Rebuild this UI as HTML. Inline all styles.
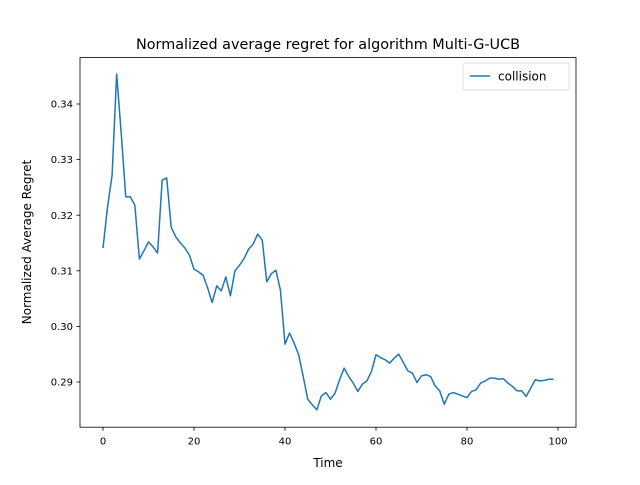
<!DOCTYPE html>
<html><head><meta charset="utf-8"><style>
body{margin:0;background:#fff;}
text{font-family:"DejaVu Sans","Liberation Sans",sans-serif;fill:#000;}
</style></head><body>
<svg id="chart" width="640" height="480">
<rect width="640" height="480" fill="#fff"/>
<text x="328" y="49" font-size="14.4" text-anchor="middle">Normalized average regret for algorithm Multi-G-UCB</text>
<g id="xt"></g><g id="yt"></g>
<path id="line" fill="none" stroke="#1f77b4" stroke-width="1.5" stroke-linejoin="round"/>
<rect x="80" y="57.6" width="496" height="369.6" fill="none" stroke="#000" stroke-width="0.8"/>
<text x="328" y="467" font-size="12" text-anchor="middle">Time</text>
<text transform="translate(31,242) rotate(-90)" font-size="12" text-anchor="middle">Normalized Average Regret</text>
<g>
<rect x="463" y="63" width="106" height="27" rx="2" fill="#fff" stroke="#ccc" stroke-width="0.8" opacity="0.8"/>
<line x1="470" y1="76" x2="490" y2="76" stroke="#1f77b4" stroke-width="1.5"/>
<text x="498" y="80.5" font-size="12">collision</text>
</g>
</svg>
<script>
const values=[0.3141,0.3215,0.3272,0.3454,0.3348,0.3233,0.3233,0.3218,0.3121,0.3136,
0.3152,0.3143,0.3132,0.3263,0.3267,0.3178,0.3161,0.3150,0.3141,0.3128,
0.3103,0.3098,0.3092,0.3069,0.3043,0.3073,0.3064,0.3089,0.3055,0.3100,
0.3110,0.3122,0.3139,0.3148,0.3166,0.3155,0.3080,0.3095,0.3101,0.3065,
0.2968,0.2988,0.2970,0.2949,0.2910,0.2869,0.2859,0.2850,0.2875,0.2881,
0.2869,0.2880,0.2904,0.2925,0.2910,0.2898,0.2883,0.2896,0.2902,0.2919,
0.2949,0.2944,0.2940,0.2934,0.2943,0.2950,0.2935,0.2920,0.2916,0.2899,
0.2911,0.2913,0.2910,0.2893,0.2884,0.2860,0.2878,0.2881,0.2878,0.2875,
0.2872,0.2883,0.2886,0.2898,0.2902,0.2907,0.2907,0.2905,0.2906,0.2898,
0.2892,0.2884,0.2884,0.2874,0.2889,0.2904,0.2902,0.2903,0.2905,0.2905];
const xTicks=[0,20,40,60,80,100];
const yTicks=[0.29,0.30,0.31,0.32,0.33,0.34];
const X=t=>103+(t/100)*455;
const Y=v=>382-(v-0.29)*5560;
const ns="http://www.w3.org/2000/svg";
const line=document.getElementById('line');
line.setAttribute('d',values.map((v,i)=>(i?'L':'M')+X(i).toFixed(2)+','+Y(v).toFixed(2)).join(''));
const xt=document.getElementById('xt'),yt=document.getElementById('yt');
xTicks.forEach(t=>{
 const l=document.createElementNS(ns,'line');
 l.setAttribute('x1',X(t));l.setAttribute('x2',X(t));l.setAttribute('y1',427.2);l.setAttribute('y2',430.7);
 l.setAttribute('stroke','#000');l.setAttribute('stroke-width','0.8');
 
 
 xt.appendChild(l);
 const tx=document.createElementNS(ns,'text');
 tx.setAttribute('x',X(t));tx.setAttribute('y',444.5);tx.setAttribute('font-size','10');tx.setAttribute('text-anchor','middle');
 tx.textContent=t;
 
 
 xt.appendChild(tx);
});
yTicks.forEach(v=>{
 const l=document.createElementNS(ns,'line');
 l.setAttribute('x1',76.5);l.setAttribute('x2',80);l.setAttribute('y1',Y(v));l.setAttribute('y2',Y(v));
 l.setAttribute('stroke','#000');l.setAttribute('stroke-width','0.8');
 
 
 yt.appendChild(l);
 const tx=document.createElementNS(ns,'text');
 tx.setAttribute('x',73);tx.setAttribute('y',Y(v)+3.6);tx.setAttribute('font-size','10');tx.setAttribute('text-anchor','end');
 tx.textContent=v.toFixed(2);
 
 
 yt.appendChild(tx);
});
</script>
</body></html>
